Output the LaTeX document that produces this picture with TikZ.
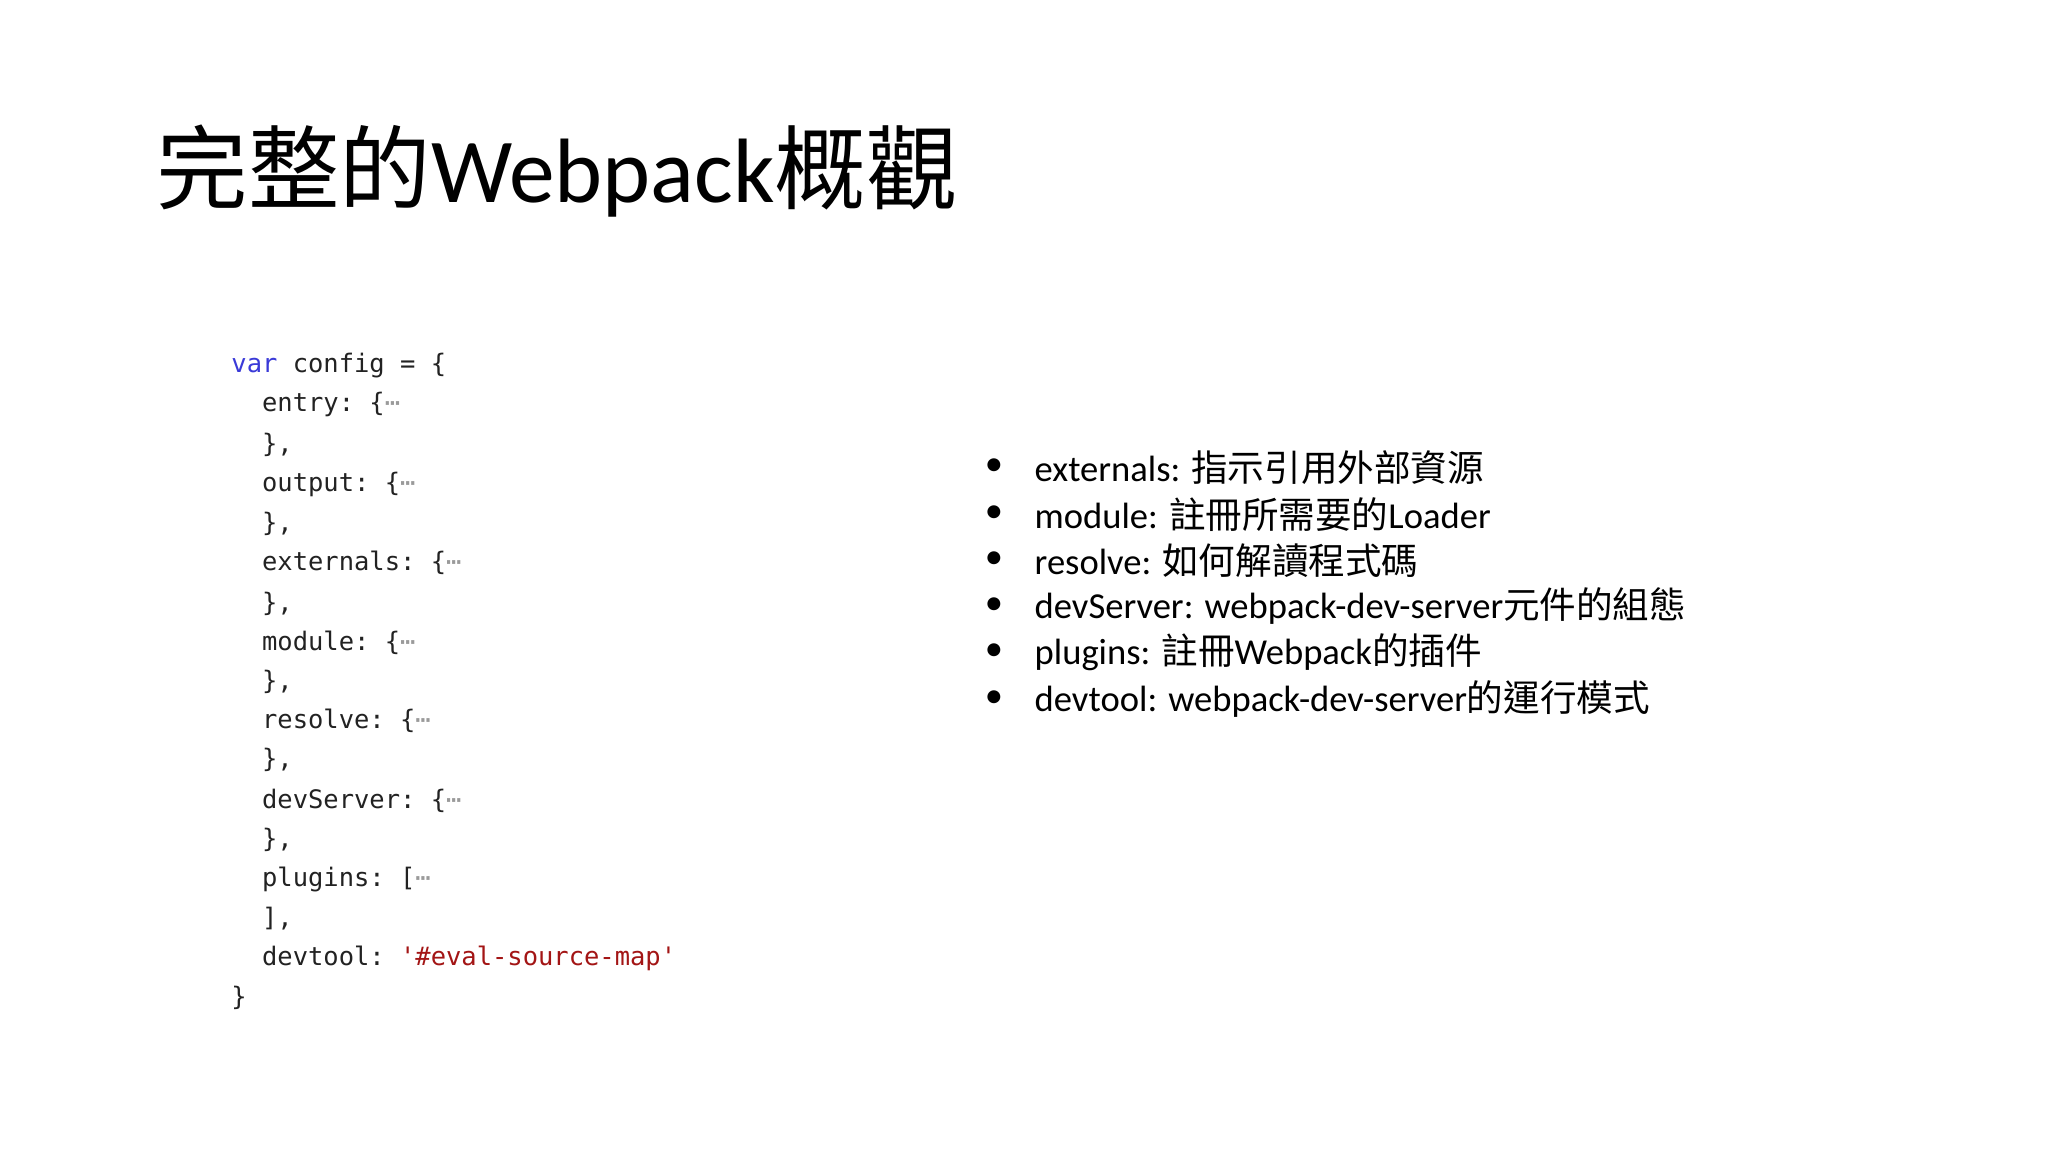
\documentclass[tikz,border=0pt]{standalone}
\usepackage{fontspec}
\setmainfont{Carlito}
\setmonofont{DejaVu Sans Mono}
\newfontfamily\cjk{Noto Sans CJK TC}
\definecolor{kw}{HTML}{3A3AD8}
\definecolor{str}{HTML}{A31515}
\definecolor{dots}{HTML}{9A9A9A}
\definecolor{txt}{HTML}{222222}
\begin{document}
\begin{tikzpicture}[x=1pt,y=-1pt,
  code/.style={anchor=west,inner sep=0pt,font=\ttfamily\fontsize{19.5}{20}\selectfont,text=txt},
  bul/.style={anchor=west,inner sep=0pt,font=\fontsize{28}{30}\selectfont,text=black},
  dot/.style={anchor=center,inner sep=0pt,font=\fontsize{28}{30}\selectfont}]
\useasboundingbox[fill=white] (0,0) rectangle (1568,882);
\node[anchor=base west,inner sep=0pt,font=\fontsize{70}{72}\selectfont] (title) at (120,155) {{\cjk 完整的}Webpack{\cjk 概觀}};
\newcommand\dd{{\color{dots}⋯}}
\node[code] (c1) at (177,280) {{\color{kw}var} config = \{};
\node[code] (c2) at (177,310) {\ \ entry: \{\dd};
\node[code] (c3) at (177,341) {\ \ \},};
\node[code] (c4) at (177,371) {\ \ output: \{\dd};
\node[code] (c5) at (177,401) {\ \ \},};
\node[code] (c6) at (177,431) {\ \ externals: \{\dd};
\node[code] (c7) at (177,462) {\ \ \},};
\node[code] (c8) at (177,492) {\ \ module: \{\dd};
\node[code] (c9) at (177,522) {\ \ \},};
\node[code] (c10) at (177,552) {\ \ resolve: \{\dd};
\node[code] (c11) at (177,582) {\ \ \},};
\node[code] (c12) at (177,613) {\ \ devServer: \{\dd};
\node[code] (c13) at (177,643) {\ \ \},};
\node[code] (c14) at (177,673) {\ \ plugins: [\dd};
\node[code] (c15) at (177,703) {\ \ ],};
\node[code] (c16) at (177,734) {\ \ devtool: {\color{str}'\#eval-source-map'}};
\node[code] (c17) at (177,764) {\}};
\foreach \y/\t [count=\i] in {
 358/{externals: {\cjk 指示引用外部資源}},
 394/{module: {\cjk 註冊所需要的}Loader},
 429/{resolve: {\cjk 如何解讀程式碼}},
 464/{devServer: webpack-dev-server{\cjk 元件的組態}},
 499/{plugins: {\cjk 註冊}Webpack{\cjk 的插件}},
 535/{devtool: webpack-dev-server{\cjk 的運行模式}}}{
  \node[dot] (d\i) at (761,\y) {•};
  \node[bul] (b\i) at (792,\y) {\t};
}
\end{tikzpicture}
\end{document}
